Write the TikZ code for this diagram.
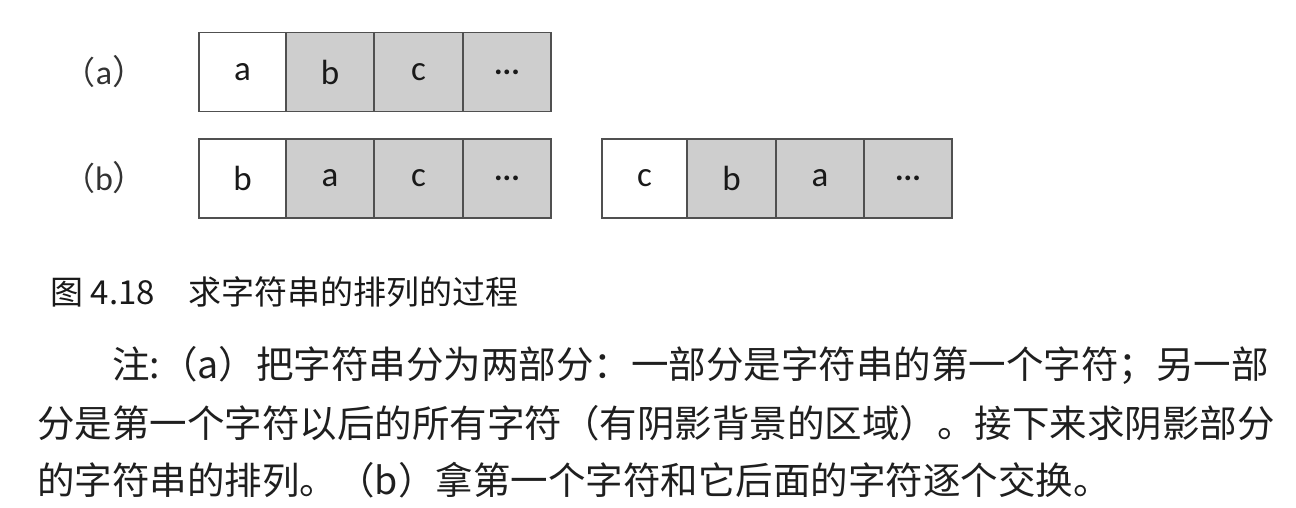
\documentclass[tikz,border=0pt]{standalone}
\usepackage{fontspec}
\setmainfont{Liberation Serif}
\newfontfamily\cjk{Noto Sans CJK SC}
\newfontfamily\cellfont{Carlito}
\definecolor{cellgray}{RGB}{206,206,206}
\definecolor{edge}{RGB}{80,80,80}
\newcommand{\celldots}{{\cellfont\bfseries\fontsize{16}{18}\selectfont ...}}
\begin{document}
\begin{tikzpicture}[x=0.5pt,y=-0.5pt,
  cellbox/.style={draw=edge,line width=0.8pt,minimum height=39.5pt,inner sep=0pt,outer sep=0pt,font=\cellfont\fontsize{17.5}{20}\selectfont,text=black!90},
  whitecell/.style={cellbox,fill=white},
  shadecell/.style={cellbox,fill=cellgray},
  rowlabel/.style={font=\cjk\fontsize{16}{18}\selectfont,text=black!80,inner sep=0pt},
  bodyline/.style={anchor=west,inner sep=0pt,font=\cjk\fontsize{18.75}{20}\selectfont,text=black!88}]
\useasboundingbox (0,0) rectangle (1296,508);
% row (a)
\node[rowlabel] (la) at (105,72) {（\cellfont\fontsize{17}{18}\selectfont a\cjk）};
\node[whitecell,minimum width=43.5pt] (a1) at (242.5,72) {a};
\node[shadecell,minimum width=44pt] (a2) at (330,72) {b};
\node[shadecell,minimum width=44.5pt] (a3) at (418.5,72) {c};
\node[shadecell,minimum width=44pt] (a4) at (507,72) {\celldots};
% row (b) first group
\node[rowlabel] (lb) at (105,178) {（\cellfont\fontsize{17}{18}\selectfont b\cjk）};
\node[whitecell,minimum width=43.5pt] (b1) at (242.5,178.5) {b};
\node[shadecell,minimum width=44pt] (b2) at (330,178.5) {a};
\node[shadecell,minimum width=44.5pt] (b3) at (418.5,178.5) {c};
\node[shadecell,minimum width=44pt] (b4) at (507,178.5) {\celldots};
% row (b) second group
\node[whitecell,minimum width=42.5pt] (c1) at (644.5,178.5) {c};
\node[shadecell,minimum width=44.5pt] (c2) at (731.5,178.5) {b};
\node[shadecell,minimum width=44pt] (c3) at (820,178.5) {a};
\node[shadecell,minimum width=44pt] (c4) at (908,178.5) {\celldots};
% caption
\node[anchor=west,inner sep=0pt,font=\cjk\fontsize{16.5}{18}\selectfont,text=black!90] (cap) at (50,292) {图 4.18\hspace{17pt}求字符串的排列的过程};
% note
\node[bodyline] (n1) at (112,365) {注:（a）把字符串分为两部分：一部分是字符串的第一个字符；另一部};
\node[bodyline] (n2) at (37,423) {分是第一个字符以后的所有字符（有阴影背景的区域）。接下来求阴影部分};
\node[bodyline] (n3) at (37,480) {的字符串的排列。（b）拿第一个字符和它后面的字符逐个交换。};
\end{tikzpicture}
\end{document}
